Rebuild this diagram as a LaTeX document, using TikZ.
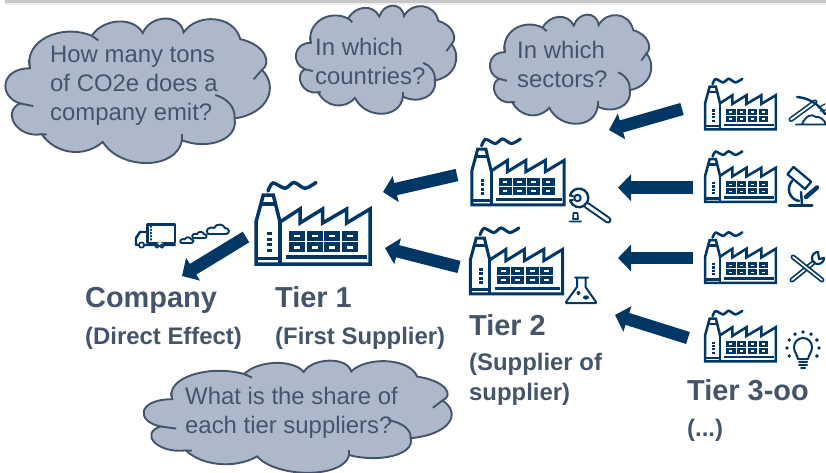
\documentclass[tikz,border=0pt]{standalone}
\usepackage{fontspec}
\setmainfont{Liberation Sans}
\usetikzlibrary{arrows.meta,calc}
\definecolor{navy}{HTML}{003764}
\definecolor{slate}{HTML}{44546A}
\definecolor{cloudfill}{HTML}{ADB9CA}
\tikzset{
  flow/.style={-{Triangle[length=13pt,width=26pt]},line width=12.5pt,color=navy},
  icon/.style={draw=navy,line width=1.7pt,line cap=round,line join=round},
  cloudtext/.style={anchor=base west,inner sep=0pt,align=left,text=slate,font=\fontsize{23.9}{29}\selectfont},
  tierhead/.style={anchor=base west,inner sep=0pt,text=slate,font=\fontsize{28.9}{32}\selectfont\bfseries},
  tiersub/.style={anchor=base west,inner sep=0pt,align=left,text=slate,font=\fontsize{23.9}{30}\selectfont\bfseries},
}
% #1,#2 = top left, #3 = size (1 is tier 1)
\newcommand{\factory}[3]{
  \begin{scope}[shift={(#1,#2)},x=#3pt,y=-#3pt,line width=1pt+#3*2.5pt,color=navy,line join=miter]
    \draw (25,82) -- (1,82) -- (1,40) -- (8.3,13) -- (18.3,13) -- (25,40)
          -- (45,27) -- (45,41) -- (67.7,27) -- (67.7,41) -- (91.7,27) -- (91.7,41)
          -- (115,27) -- (115,82) -- cycle;
    \draw (25,40) -- (25,82);
    \draw (6.5,22) -- (20,22);
    \draw (1,76.5) -- (23,76.5);
    \draw (31,75) -- (112,75);
    \draw[line cap=round] plot[smooth] coordinates {(13,9) (18,1) (30,6.3) (39,0.5) (50,6.3) (61,0.5)};
    % chimney dots
    \foreach \y in {50,55.5,61,66.5}
      \fill (12,\y) rectangle (16.5,\y+3.4);
    % windows
    \foreach \x in {34,51.7,69.4,87.1}
      \foreach \y in {49,60.3} {
        \fill (\x,\y) rectangle (\x+16,\y+9.7);
        \fill[white] (\x+5,\y+3.5) rectangle (\x+11,\y+6.2);
      }
  \end{scope}
}
% #1,#2 = top left, #3,#4 = width and height
\newcommand{\cloudshape}[4]{
  \pgfmathsetmacro{\sx}{#3/800}
  \pgfmathsetmacro{\sy}{#4/427}
  \begin{scope}[shift={(#1,#2)},x=\sx pt,y=-\sy pt,shift={(-12,-58)},draw=slate,line width=1.9pt]
    \draw[fill=cloudfill] (90,205) .. controls (70,125) and (180,70) .. (275,108)
      .. controls (310,55) and (400,50) .. (428,100)
      .. controls (450,45) and (540,40) .. (550,98)
      .. controls (590,40) and (700,45) .. (720,118)
      .. controls (795,135) and (815,190) .. (785,210)
      .. controls (835,260) and (805,340) .. (703,355)
      .. controls (715,420) and (620,450) .. (545,420)
      .. controls (530,510) and (360,510) .. (308,425)
      .. controls (250,475) and (165,460) .. (125,402)
      .. controls (50,415) and (5,335) .. (60,310)
      .. controls (-5,290) and (0,205) .. (90,205) -- cycle;
    % inner hooks
    \draw (275,108) -- (295,122);
    \draw (785,210) -- (760,238);
    \draw (703,355) .. controls (705,320) and (680,295) .. (645,285);
    \draw (545,420) -- (545,400);
    \draw (125,402) -- (140,403);
    \draw (60,310) -- (100,318);
    \draw (90,205) -- (86,180);
  \end{scope}
}
% small exhaust puff, #1,#2 = left end of its flat side, #3 = size
\newcommand{\puff}[3]{
  \draw[icon,line width=1.9pt,fill=white,shift={(#1,#2)},x=#3pt,y=-#3pt]
    (0,0) .. controls (-4,-4) and (2,-8) .. (6,-6)
    .. controls (8,-11) and (16,-10) .. (17,-6)
    .. controls (22,-6) and (22,0) .. (18,0) -- cycle;
}
\begin{document}
\begin{tikzpicture}[x=1pt,y=-1pt]
\useasboundingbox (0,0) rectangle (826,473);

% Top edge
\fill[black!6] (5,0) rectangle (826,5);
\fill[black!22] (5,0) rectangle (826,3);

% Clouds
\cloudshape{4}{19}{267}{143}
\cloudshape{295}{6}{162}{107}
\cloudshape{489}{15}{163}{108}
\cloudshape{142}{361}{311}{111}

\node (howmany) at (50,121) [cloudtext] {How many tons\\of CO2e does a\\company emit?};
\node (countries) at (315,85) [cloudtext] {In which\\countries?};
\node (sectors) at (517,88) [cloudtext] {In which\\sectors?};
\node (share) at (185,433) [cloudtext] {What is the share of\\each tier suppliers?};

% Factories
\factory{255}{182}{1}
\factory{471}{138.5}{0.81}
\factory{469.5}{227.5}{0.81}
\factory{704.5}{78.5}{0.62}
\factory{704.5}{151}{0.62}
\factory{704.5}{232}{0.62}
\factory{704.5}{310.5}{0.62}

% Arrows
\coordinate (companytail) at (246,237);
\coordinate (companytip) at (182,276);
\coordinate (uppertail) at (457,175);
\coordinate (uppertip) at (383,192);
\coordinate (lowertail) at (459,267);
\coordinate (lowertip) at (385,248);
\coordinate (minetail) at (682,109);
\coordinate (minetip) at (609,130);
\coordinate (labtail) at (693,187.7);
\coordinate (labtip) at (618,187.7);
\coordinate (tooltail) at (693,258);
\coordinate (tooltip) at (618,258);
\coordinate (ideatail) at (688,338);
\coordinate (ideatip) at (615,315);
\draw[flow] (companytail) -- (companytip);
\draw[flow] (uppertail) -- (uppertip);
\draw[flow] (lowertail) -- (lowertip);
\draw[flow] (minetail) -- (minetip);
\draw[flow] (labtail) -- (labtip);
\draw[flow] (tooltail) -- (tooltip);
\draw[flow] (ideatail) -- (ideatip);

% Truck and exhaust
\draw[icon,line width=2.4pt] (147.5,224.5) rectangle (175,243);
\draw[icon,line width=1.2pt,dotted] (151,226) -- (151,241);
\draw[icon,line width=2.4pt] (147.5,232) -- (140,232) -- (136,238) -- (136,245) -- (175,245);
\fill[white] (141.5,245) circle (3.5) (160,245.5) circle (3.5);
\draw[icon] (141.5,245) circle (2.7) (157,246) circle (1.8) (162,246) circle (1.8);
\puff{181}{243}{0.6}
\puff{193}{238}{0.65}
\puff{208}{234}{1}

% Wrench
\draw[icon,line width=2.4pt] (570,195.5) arc (195:525:9.3);
\draw[icon,line width=2pt] (570,195.5) -- (573,196) (570,200.5) -- (573,200);
\draw[icon,line width=2pt] (577.5,198) circle (3.2);
\draw[navy,line width=7pt,line cap=round] (587,205.5) -- (608,220);
\draw[white,line width=3pt,line cap=round] (587,205.5) -- (608,220);
\draw[icon] (573.5,213) -- (577.5,213) -- (578,219) -- (573,219) -- cycle (570,221.5) -- (581,221.5);

% Flask
\draw[icon,line width=2pt] (575,277.5) -- (588,277.5) (577,278) -- (577,287) -- (566,302) -- (566,303) -- (596,303) -- (596,302) -- (585.5,287) -- (585.5,278);
\fill[navy] (578.5,293) circle (2) (586,297.5) ellipse (3 and 2.2);

% Pickaxe
\draw[navy,line width=5pt,line cap=round] (791,119.5) -- (815,102);
\draw[white,line width=1.8pt,line cap=round] (791,119.5) -- (815,102);
\draw[icon,line width=2.4pt] (797,97) .. controls (808,98) and (818,103) .. (825,114);
\draw[icon,line width=1.8pt] (802,124) .. controls (806,116) and (811,113) .. (816,117) .. controls (820,116) and (824,120) .. (826,124) (796,124.5) -- (826,124.5);
\draw[icon,line width=1.2pt] (818,108) -- (825,104) (820,111) -- (826,110);

% Microscope
\begin{scope}[shift={(799.5,178.5)},rotate=-40]
  \draw[icon,line width=2.3pt] (-12,-5) rectangle (11,4.5);
\end{scope}
\draw[icon,line width=2.5pt] (792,181) .. controls (786,188) and (789,199) .. (799,201);
\draw[navy,line width=4.5pt,line cap=round] (806,197) -- (817,187.5);
\draw[icon,line width=2.5pt] (801,192) -- (802,204);
\draw[icon,line width=3pt] (789,205.5) -- (812,205.5);

% Crossed tools
\draw[navy,line width=5pt,line cap=round] (792,280) -- (813,263);
\draw[white,line width=1.6pt,line cap=round] (792,280) -- (813,263);
\draw[navy,line width=5pt,line cap=round] (793,257) -- (822,280);
\draw[white,line width=1.6pt,line cap=round] (793,257) -- (822,280);
\draw[icon,line width=2.2pt] (824,258) arc (0:270:6);
\draw[icon,line width=2.2pt] (824,258) -- (819,259) -- (818,252);

% Bulb
\draw[icon,line width=2pt] (798,359) .. controls (797,354) and (794,352) .. (794,347) arc (180:360:9) .. controls (812,352) and (809,354) .. (808,359) -- cycle;
\draw[icon,line width=2pt] (799,362) -- (807,362) (799,365) -- (807,365) (801,367.5) -- (805,367.5);
\foreach \a in {-30,0,...,210}
  \fill[navy] ($(803,348)+(-\a:16)$) circle (1.9);

% Labels
\node (company) at (85,307) [tierhead] {Company};
\node (companysub) at (85,344) [tiersub] {(Direct Effect)};
\node (tierone) at (275,307) [tierhead] {Tier 1};
\node (tieronesub) at (275,344) [tiersub] {(First Supplier)};
\node (tiertwo) at (469,335) [tierhead] {Tier 2};
\node (tiertwosub) at (469,400) [tiersub] {(Supplier of\\supplier)};
\node (tierthree) at (687,400) [tierhead] {Tier 3-oo};
\node (tierthreesub) at (687,436) [tiersub] {(...)};

\end{tikzpicture}
\end{document}
